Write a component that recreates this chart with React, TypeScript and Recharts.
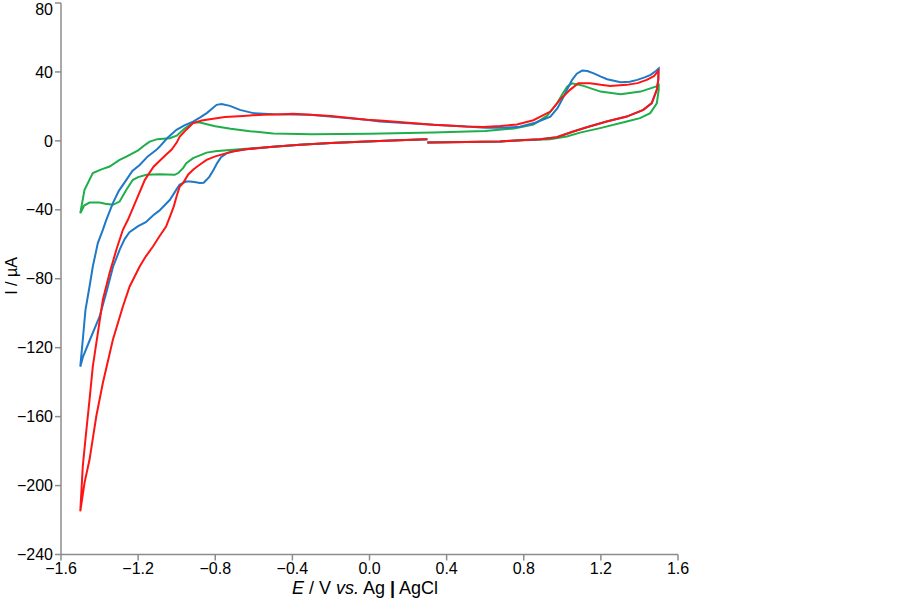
import { LineChart, Line, XAxis, YAxis } from "recharts";

// cyclic voltammograms, each scan read as [E (V), I (µA)] pairs
// scan order: 0.3 V -> -1.5 V -> 1.5 V -> 0.3 V

const blueCathodic: [number, number][] = [
  [0.3, 1.0], [0.15, 0.3], [-0.015, -0.4], [-0.2, -1.3], [-0.36, -2.3], [-0.5, -3.4],
  [-0.64, -4.8], [-0.67, -5.3], [-0.71, -6.2], [-0.74, -7.1], [-0.77, -9.5], [-0.79, -12.9],
  [-0.81, -17], [-0.83, -20.7], [-0.845, -22.6], [-0.86, -24.3], [-0.88, -24.5], [-0.9, -24.0],
  [-0.93, -23.6], [-0.95, -23.6], [-0.97, -24.5], [-0.985, -25.5], [-1.0, -28], [-1.035, -34.2],
  [-1.055, -36.5], [-1.09, -40.5], [-1.12, -43], [-1.16, -47.2], [-1.2, -49.5], [-1.245, -53],
  [-1.27, -57], [-1.295, -63], [-1.33, -73], [-1.365, -88], [-1.4, -102], [-1.45, -115.4],
  [-1.485, -125], [-1.5, -131],
];
const blueAnodic: [number, number][] = [
  [-1.487, -115.4], [-1.473, -98], [-1.452, -84.5], [-1.435, -72.9], [-1.409, -59.3],
  [-1.383, -51.6], [-1.365, -45.8], [-1.331, -36.1], [-1.3, -29], [-1.261, -22.6], [-1.23, -17.5],
  [-1.192, -14], [-1.15, -9], [-1.105, -5.2], [-1.088, -3.3], [-1.05, 1.5], [-1.001, 6.4],
  [-0.96, 9], [-0.915, 11.2], [-0.88, 13.5], [-0.844, 16.1], [-0.793, 20.9], [-0.767, 21.4],
  [-0.724, 20.3], [-0.672, 18], [-0.603, 16.1], [-0.499, 15.5], [-0.308, 15.1], [-0.015, 12.2],
  [0.054, 11.2], [0.331, 9.3], [0.5, 8.3], [0.6, 7.6], [0.7, 7.6], [0.78, 8.2], [0.86, 10.5],
  [0.938, 14.1], [0.975, 19], [1.007, 25.7], [1.03, 31], [1.051, 35.4], [1.075, 39], [1.103, 40.8],
  [1.13, 40.5], [1.163, 39.2], [1.2, 37.3], [1.233, 35.8], [1.302, 34], [1.35, 34.3], [1.389, 35.4],
  [1.43, 37], [1.458, 38.3], [1.485, 40.5], [1.5, 42],
];
const blueReturn: [number, number][] = [
  [1.498, 36], [1.49, 29.6], [1.464, 21.8], [1.42, 18], [1.334, 14.1], [1.23, 11.2], [1.127, 7.9],
  [1.057, 5.4], [0.971, 2.1], [0.884, 1.0], [0.78, 0.3], [0.677, -0.3], [0.5, -0.7], [0.3, -1.0],
];

const greenCathodic: [number, number][] = [
  [0.3, 1.0], [0.15, 0.3], [-0.015, -0.4], [-0.2, -1.3], [-0.36, -2.3], [-0.5, -3.4],
  [-0.64, -4.6], [-0.74, -5.4], [-0.8, -6], [-0.845, -6.8], [-0.87, -8], [-0.915, -10],
  [-0.95, -13], [-0.967, -15.8], [-0.99, -18.5], [-1.01, -19.7], [-1.05, -19.5], [-1.088, -19.3],
  [-1.157, -19.7], [-1.2, -21], [-1.227, -22.6], [-1.261, -28.4], [-1.296, -35.2], [-1.331, -37.1],
  [-1.37, -36.5], [-1.4, -35.8], [-1.452, -35.8], [-1.48, -37.5], [-1.5, -42],
];
const greenAnodic: [number, number][] = [
  [-1.478, -28.4], [-1.435, -18.7], [-1.39, -16.5], [-1.348, -14.9], [-1.296, -11], [-1.261, -9.1],
  [-1.2, -5.5], [-1.16, -2], [-1.14, -0.4], [-1.1, 1.0], [-1.036, 1.5], [-1.0, 3], [-0.96, 7],
  [-0.915, 10.6], [-0.88, 10.6], [-0.8, 8.5], [-0.72, 7.0], [-0.62, 5.6], [-0.5, 4.3], [-0.3, 3.9],
  [0.0, 4.2], [0.33, 4.8], [0.6, 5.8], [0.75, 7.2], [0.85, 9.5], [0.92, 14.5], [0.95, 18.5],
  [0.973, 21.8], [1.0, 27], [1.025, 31.5], [1.05, 33.4], [1.11, 31.9], [1.198, 28.6], [1.302, 27],
  [1.406, 28.6], [1.484, 31.5], [1.5, 32.5],
];
const greenReturn: [number, number][] = [
  [1.5, 29.6], [1.49, 21.8], [1.456, 16.1], [1.403, 13.2], [1.334, 11.2], [1.196, 7.4],
  [1.092, 4.8], [1.023, 2.5], [0.936, 1.0], [0.8, 0.3], [0.68, -0.3], [0.5, -0.7], [0.3, -1.0],
];

const redCathodic: [number, number][] = [
  [0.3, 1.0], [0.15, 0.3], [-0.015, -0.4], [-0.2, -1.3], [-0.36, -2.3], [-0.5, -3.4],
  [-0.64, -4.9], [-0.67, -5.5], [-0.71, -6.2], [-0.74, -7.1], [-0.8, -9], [-0.845, -11],
  [-0.87, -13], [-0.895, -15], [-0.915, -16.8], [-0.94, -19.5], [-0.967, -24.5], [-0.984, -26.5],
  [-1.0, -32], [-1.015, -38], [-1.035, -44], [-1.055, -49.7], [-1.09, -55.5], [-1.123, -61.3],
  [-1.16, -67], [-1.192, -72.9], [-1.244, -84.5], [-1.279, -96.1], [-1.331, -115.4],
  [-1.383, -140.5], [-1.417, -159.8], [-1.452, -184.9], [-1.478, -198.4], [-1.5, -215],
];
const redAnodic: [number, number][] = [
  [-1.487, -188.8], [-1.47, -169.5], [-1.452, -150.1], [-1.435, -130.8], [-1.409, -111.5],
  [-1.383, -92.2], [-1.348, -76.7], [-1.313, -63.2], [-1.279, -51.6], [-1.253, -45.8],
  [-1.209, -34.2], [-1.165, -22.6], [-1.12, -15], [-1.088, -11.5], [-1.05, -7.5], [-1.027, -5.2],
  [-1.0, -1], [-0.984, 2.5], [-0.95, 6.5], [-0.915, 10.3], [-0.87, 11.8], [-0.828, 12.6],
  [-0.75, 13.8], [-0.655, 14.5], [-0.55, 15.2], [-0.449, 15.5], [-0.395, 15.7], [-0.2, 14.5],
  [-0.015, 12.2], [0.054, 11.8], [0.331, 9.3], [0.5, 8.3], [0.59, 8.0], [0.68, 8.6], [0.765, 9.5],
  [0.85, 12], [0.938, 17], [0.987, 23.8], [1.04, 29.6], [1.083, 33.4], [1.144, 33.4], [1.2, 32.5],
  [1.248, 31.9], [1.334, 32.5], [1.39, 33.5], [1.438, 35.4], [1.475, 37.5], [1.498, 40.8],
];
const redReturn: [number, number][] = [
  [1.498, 35.5], [1.49, 29.6], [1.464, 22], [1.42, 18], [1.334, 14.1], [1.23, 11.2], [1.127, 7.9],
  [1.057, 5.4], [0.971, 2.1], [0.884, 1.0], [0.78, 0.3], [0.677, -0.3], [0.5, -0.7], [0.3, -1.0],
];

const xTicks = [-1.6, -1.2, -0.8, -0.4, 0, 0.4, 0.8, 1.2, 1.6];
const yTicks = [-240, -200, -160, -120, -80, -40, 0, 40, 80];

const toPoints = (...parts: [number, number][][]) =>
  parts.flat().map(([e, i]) => ({ e, i }));

const series = [
  { name: "green", color: "#1fae4a", data: toPoints(greenCathodic, greenAnodic, greenReturn) },
  { name: "blue", color: "#1f78c8", data: toPoints(blueCathodic, blueAnodic, blueReturn) },
  { name: "red", color: "#ff1414", data: toPoints(redCathodic, redAnodic, redReturn) },
];

const minus = (v: string) => v.replace("-", "\u2212");
const font = "'Liberation Sans', Arial, sans-serif";
const axisGray = "#8c8c8c";

export default function App() {
  return (
    <div style={{ position: "absolute", left: 0, top: 0, width: 903, height: 598, background: "#fff", fontFamily: font }}>
      <LineChart width={903} height={598} margin={{ top: 3, right: 225, bottom: 3.5, left: 0 }}>
        <XAxis
          type="number"
          dataKey="e"
          domain={[-1.6, 1.6]}
          ticks={xTicks}
          tickFormatter={(v: number) => minus(v.toFixed(1))}
          allowDataOverflow
          height={40}
          stroke={axisGray}
          strokeWidth={1.5}
          tickSize={6}
          tick={{ fill: "#000", fontSize: 16, fontFamily: font }}
        />
        <YAxis
          type="number"
          dataKey="i"
          domain={[-240, 80]}
          ticks={yTicks}
          tickFormatter={(v: number) => minus(String(v))}
          allowDataOverflow
          width={61}
          stroke={axisGray}
          strokeWidth={1.5}
          tickSize={6}
          tick={{ fill: "#000", fontSize: 16, fontFamily: font }}
        />
        {series.map((s) => (
          <Line
            key={s.name}
            data={s.data}
            dataKey="i"
            type="linear"
            stroke={s.color}
            strokeWidth={2}
            dot={false}
            activeDot={false}
            isAnimationActive={false}
          />
        ))}
      </LineChart>
      <div
        style={{
          position: "absolute",
          left: 12,
          top: 276,
          transform: "translate(-50%, -50%) rotate(-90deg)",
          fontSize: 16,
          whiteSpace: "nowrap",
        }}
      >
        I / µA
      </div>
      <div
        style={{
          position: "absolute",
          left: 365,
          top: 588,
          transform: "translate(-50%, -50%)",
          fontSize: 18,
          whiteSpace: "nowrap",
        }}
      >
        <i>E</i> / V <i>vs.</i> Ag <b style={{ fontWeight: 900 }}>|</b> AgCl
      </div>
    </div>
  );
}
